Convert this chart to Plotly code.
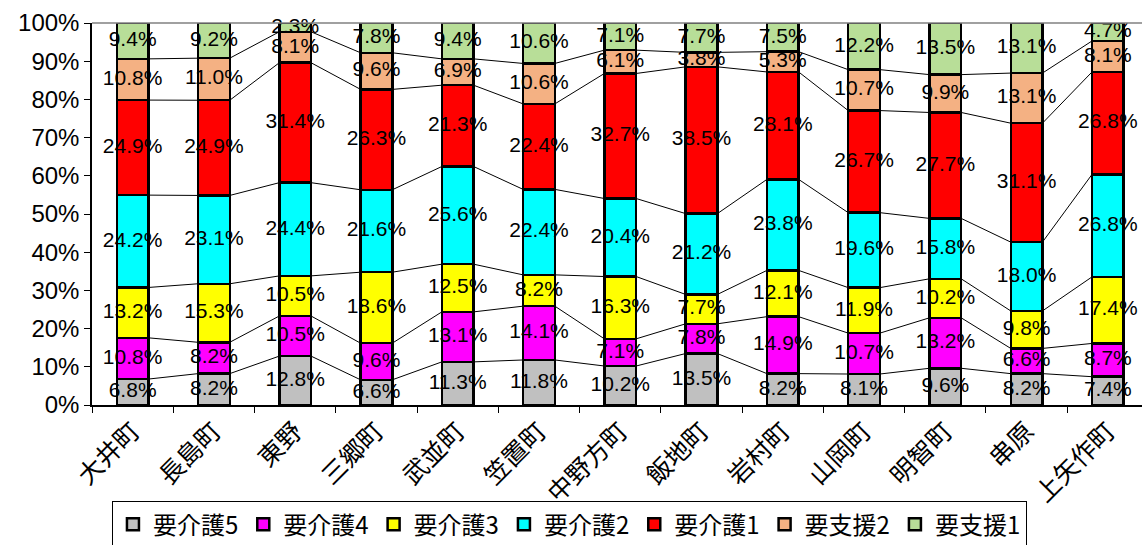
import plotly.graph_objects as go

categories = ["大井町", "長島町", "東野", "三郷町", "武並町", "笠置町", "中野方町",
              "飯地町", "岩村町", "山岡町", "明智町", "串原", "上矢作町"]
series_names = ["要介護5", "要介護4", "要介護3", "要介護2", "要介護1", "要支援2", "要支援1"]
kaigo5 = [6.8, 8.2, 12.8, 6.6, 11.3, 11.8, 10.2, 13.5, 8.2, 8.1, 9.6, 8.2, 7.4]
kaigo4 = [10.8, 8.2, 10.5, 9.6, 13.1, 14.1, 7.1, 7.8, 14.9, 10.7, 13.2, 6.6, 8.7]
kaigo3 = [13.2, 15.3, 10.5, 18.6, 12.5, 8.2, 16.3, 7.7, 12.1, 11.9, 10.2, 9.8, 17.4]
kaigo2 = [24.2, 23.1, 24.4, 21.6, 25.6, 22.4, 20.4, 21.2, 23.8, 19.6, 15.8, 18.0, 26.8]
kaigo1 = [24.9, 24.9, 31.4, 26.3, 21.3, 22.4, 32.7, 38.5, 28.1, 26.7, 27.7, 31.1, 26.8]
shien2 = [10.8, 11.0, 8.1, 9.6, 6.9, 10.6, 6.1, 3.8, 5.3, 10.7, 9.9, 13.1, 8.1]
shien1 = [9.4, 9.2, 2.3, 7.8, 9.4, 10.6, 7.1, 7.7, 7.5, 12.2, 13.5, 13.1, 4.7]
colors = ["#C0C0C0", "#FF00FF", "#FFFF00", "#00FFFF", "#FF0000", "#F4B183", "#B8DE98"]
y_ticks = [0, 10, 20, 30, 40, 50, 60, 70, 80, 90, 100]

series = [kaigo5, kaigo4, kaigo3, kaigo2, kaigo1, shien2, shien1]
n = len(categories)
xs = list(range(n))
BW = 0.39
NUM_FONT = "Liberation Sans Narrow, Arial Narrow, Liberation Sans, Arial"
CJK_FONT = "Noto Sans CJK JP"

totals = [sum(s[i] for s in series) for i in range(n)]

fig = go.Figure()
for name, vals, col in zip(series_names, series, colors):
    fig.add_trace(go.Bar(
        x=xs, y=vals, name=name, width=BW,
        marker=dict(color=col, line=dict(color="black", width=2.5)),
        hoverinfo="skip",
    ))

# cumulative normalized tops, label midpoints
cum = [0.0] * n
tops = []
mids = []
for vals in series:
    mid = [(cum[i] + vals[i] / 2) / totals[i] * 100 for i in range(n)]
    cum = [cum[i] + vals[i] for i in range(n)]
    top = [cum[i] / totals[i] * 100 for i in range(n)]
    tops.append(top)
    mids.append(mid)

# series lines
for k in range(len(series) - 1):
    lx, ly = [], []
    for i in range(n - 1):
        lx += [xs[i] + BW / 2, xs[i + 1] - BW / 2, None]
        ly += [tops[k][i], tops[k][i + 1], None]
    fig.add_trace(go.Scatter(x=lx, y=ly, mode="lines", line=dict(color="black", width=1),
                             showlegend=False, hoverinfo="skip"))

# data labels
for k, vals in enumerate(series):
    fig.add_trace(go.Scatter(
        x=xs, y=mids[k], mode="text", text=[f"{v:.1f}%" for v in vals],
        textfont=dict(family=NUM_FONT, size=21, color="black"),
        textposition="middle center", showlegend=False, hoverinfo="skip", cliponaxis=False,
    ))

fig.update_layout(
    barmode="stack", barnorm="percent",
    width=1142, height=545,
    margin=dict(l=92, r=0, t=23, b=140, autoexpand=False),
    plot_bgcolor="white", paper_bgcolor="white",
    showlegend=True,
    legend=dict(orientation="h", x=0.019, y=-0.252, xanchor="left", yanchor="top",
                font=dict(family=CJK_FONT, size=24, color="black"),
                bordercolor="black", borderwidth=1, traceorder="normal",
                itemwidth=30, tracegroupgap=0),
    xaxis=dict(range=[-0.5, 12.42], tickmode="array", tickvals=xs, ticktext=categories,
               tickangle=-45, ticks="", showgrid=False, zeroline=False,
               showline=True, linecolor="black", linewidth=1.5, automargin=False,
               tickfont=dict(family=CJK_FONT, size=25, color="black"),
               minor=dict(tickmode="array", tickvals=[i - 0.5 for i in range(n + 1)],
                          ticks="outside", ticklen=6, tickcolor="black", showgrid=False)),
    yaxis=dict(range=[0, 100], tickmode="array", tickvals=y_ticks,
               ticktext=[f"{v}%" for v in y_ticks], ticks="outside", ticklen=6,
               tickcolor="black", showgrid=False, zeroline=False, automargin=False,
               showline=True, linecolor="black", linewidth=1.5,
               tickfont=dict(family=NUM_FONT, size=24, color="black")),
    shapes=[dict(type="line", xref="paper", yref="paper", x0=0, x1=1, y0=1, y1=1,
                 line=dict(color="#808080", width=1.5))],
)

fig.write_html("out.html")
